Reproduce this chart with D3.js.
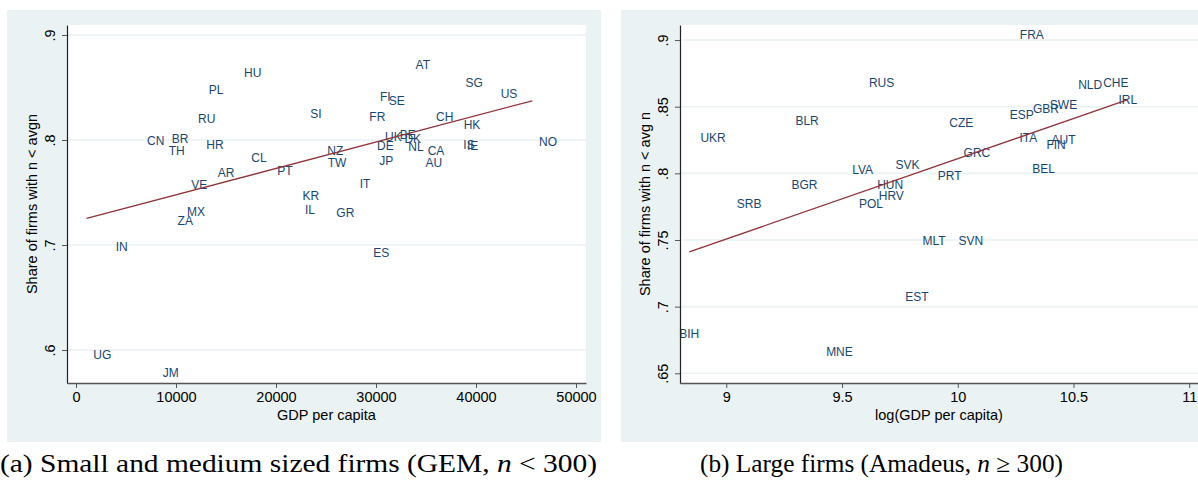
<!DOCTYPE html>
<html>
<head>
<meta charset="utf-8">
<script src="https://cdn.jsdelivr.net/npm/d3@7"></script>
<style>
  body { margin: 0; background: #fff; }
  svg { display: block; }
</style>
</head>
<body>
<svg width="1198" height="485"></svg>
<script>
// panel (a): GEM, small and medium firms
const gemCodes = ["HU","PL","RU","CN","BR","TH","HR","CL","AR","VE","MX","ZA","PT","IN","UG","JM",
    "AT","SG","US","FI","SE","SI","FR","CH","HK","UK","BE","DK","DE","NL","IS","IE","NO",
    "CA","NZ","TW","JP","AU","IT","KR","IL","GR","ES"]
const gemGdp = [16130,12600,11530,6430,8900,8600,12360,16860,13500,10860,10430,9490,19460,3300,1060,8000,
    33290,38290,41800,29730,30600,22760,28660,35330,38100,30230,31700,32170,29430,32560,38060,38430,45630,
    34500,24460,24500,29660,34270,27700,21970,22230,25360,29060]
const gemShare = [0.864,0.848,0.820,0.799,0.801,0.790,0.7955,0.783,0.769,0.757,0.732,0.723,0.771,0.698,0.596,0.578,
    0.872,0.855,0.844,0.841,0.837,0.825,0.822,0.822,0.815,0.803,0.805,0.801,0.795,0.794,0.796,0.795,0.798,
    0.790,0.790,0.778,0.780,0.778,0.758,0.747,0.734,0.731,0.693]
const gemFit = [0.7226, 2.515e-6]   // intercept, slope
const gemXTicks = [0, 10000, 20000, 30000, 40000, 50000]
const gemYTicks = [0.6, 0.7, 0.8, 0.9]

// panel (b): Amadeus, large firms
const amaCodes = ["RUS","BLR","UKR","LVA","BGR","SRB","POL","HUN","HRV","FRA","NLD","CHE","IRL","SWE","GBR",
    "ESP","CZE","ITA","AUT","FIN","GRC","SVK","BEL","PRT","MLT","SVN","EST","BIH","MNE"]
const amaLogGdp = [9.671,9.349,8.943,9.589,9.338,9.099,9.625,9.708,9.713,10.320,10.572,10.683,10.735,10.457,10.381,
    10.277,10.015,10.305,10.457,10.425,10.083,9.783,10.371,9.965,9.898,10.057,9.824,8.840,9.489]
const amaShare = [0.868,0.8395,0.827,0.8025,0.7918,0.7775,0.7775,0.7912,0.7832,0.9037,0.8665,0.8683,0.8555,0.8515,0.8485,
    0.8443,0.838,0.827,0.8255,0.8215,0.8155,0.8068,0.8035,0.7985,0.7494,0.7494,0.7072,0.6797,0.666]
const amaFit = [0.208, 0.0603]
const amaXTicks = [9, 9.5, 10, 10.5, 11]
const amaYTicks = [0.65, 0.7, 0.75, 0.8, 0.85, 0.9]

const svg = d3.select("svg")
const font = "'Liberation Sans', Arial, Helvetica, sans-serif"
const navy = "#1a476f"
const maroon = "#90353b"
const bgColor = "#eaf2f3"

function panel(opts){
    const { bg, plot, xDomain, yDomain, codes, xs, ys, fit, xTicks, yTicks, xFmt, xTitle, yTitle, centered } = opts
    const g = svg.append("g")

    g.append("rect")
        .attr("x", bg[0]).attr("y", bg[1])
        .attr("width", bg[2] - bg[0]).attr("height", bg[3] - bg[1])
        .attr("fill", bgColor)
    g.append("rect")
        .attr("x", plot[0]).attr("y", plot[1])
        .attr("width", plot[2] - plot[0]).attr("height", plot[3] - plot[1])
        .attr("fill", "#fff")

    const xScale = d3.scaleLinear().domain(xDomain).range([plot[0], plot[2]])
    const yScale = d3.scaleLinear().domain(yDomain).range([plot[3], plot[1]])

    // horizontal grid
    g.append("g")
        .selectAll("line")
        .data(yTicks)
        .enter()
        .append("line")
        .attr("x1", plot[0]).attr("x2", plot[2])
        .attr("y1", d => yScale(d)).attr("y2", d => yScale(d))
        .attr("stroke", bgColor)
        .attr("stroke-width", 1.6)

    // country labels
    g.append("g")
        .selectAll("text")
        .data(codes)
        .enter()
        .append("text")
        .attr("x", (d, i) => xScale(xs[i]) + (centered ? 0 : 6.7))
        .attr("y", (d, i) => yScale(ys[i]))
        .attr("dy", "0.36em")
        .attr("text-anchor", centered ? "middle" : "start")
        .style("font-family", font)
        .style("font-size", "12px")
        .attr("fill", navy)
        .text(d => d)

    // fitted line over the x range of the data
    const xExt = d3.extent(xs)
    const line = d3.line().x(d => xScale(d)).y(d => yScale(fit[0] + fit[1] * d))
    g.append("path")
        .attr("d", line(xExt))
        .attr("fill", "none")
        .attr("stroke", maroon)
        .attr("stroke-width", 1.3)

    // axes
    const xAxis = d3.axisBottom(xScale).tickValues(xTicks).tickSize(5).tickSizeOuter(0).tickPadding(4).tickFormat(xFmt)
    const xG = g.append("g")
        .attr("transform", `translate(0, ${plot[3]})`)
        .call(xAxis)
    xG.select("path.domain").attr("stroke", "#555").attr("stroke-width", 1.5)
    xG.selectAll("line").attr("stroke", "#555")
    xG.selectAll("text")
        .style("font-family", font).style("font-size", "14.5px").attr("fill", "#000")

    const yAxis = d3.axisLeft(yScale).tickValues(yTicks).tickSize(5).tickSizeOuter(0)
        .tickFormat(d => d3.format(".2~f")(d).replace(/^0/, ""))
    const yG = g.append("g")
        .attr("transform", `translate(${plot[0]}, 0)`)
        .call(yAxis)
    yG.select("path.domain").attr("stroke", "#222").attr("stroke-width", 1.2)
    yG.selectAll("line").attr("stroke", "#555")
    yG.selectAll("text")
        .attr("transform", "rotate(-90)")
        .attr("x", 0).attr("y", -12).attr("dy", 0)
        .attr("text-anchor", "middle")
        .style("font-family", font).style("font-size", "14.5px").attr("fill", "#000")

    g.append("text")
        .attr("x", (plot[0] + plot[2]) / 2)
        .attr("y", 420)
        .attr("text-anchor", "middle")
        .style("font-family", font).style("font-size", "14.5px")
        .text(xTitle)

    g.append("text")
        .attr("transform", `translate(${plot[0] - 30}, ${(plot[1] + plot[3]) / 2}) rotate(-90)`)
        .attr("text-anchor", "middle")
        .style("font-family", font).style("font-size", "14.5px")
        .text(yTitle)
}

panel({
    bg: [7, 10, 601, 442], plot: [67, 25, 586, 383],
    xDomain: [-900, 51000], yDomain: [0.5686, 0.9095],
    codes: gemCodes, xs: gemGdp, ys: gemShare, fit: gemFit,
    xTicks: gemXTicks, yTicks: gemYTicks, xFmt: d => d3.format("d")(d),
    xTitle: "GDP per capita", yTitle: "Share of firms with n < avgn", centered: false
})

panel({
    bg: [621, 10, 1198, 442], plot: [680, 25, 1198, 383],
    xDomain: [8.80, 11.038], yDomain: [0.6427, 0.9113],
    codes: amaCodes, xs: amaLogGdp, ys: amaShare, fit: amaFit,
    xTicks: amaXTicks, yTicks: amaYTicks, xFmt: d => d3.format("~g")(d),
    xTitle: "log(GDP per capita)", yTitle: "Share of firms with n < avg n", centered: true
})

// sub-captions
const serif = "'Liberation Serif', 'Times New Roman', serif"
const capA = svg.append("text").attr("x", 0).attr("y", 472)
    .style("font-family", serif).style("font-size", "25px")
    .attr("textLength", 597).attr("lengthAdjust", "spacingAndGlyphs")
capA.append("tspan").text("(a) Small and medium sized firms (GEM, ")
capA.append("tspan").style("font-style", "italic").text("n")
capA.append("tspan").text(" < 300)")

const capB = svg.append("text").attr("x", 700).attr("y", 472)
    .style("font-family", serif).style("font-size", "25px")
    .attr("textLength", 363).attr("lengthAdjust", "spacingAndGlyphs")
capB.append("tspan").text("(b) Large firms (Amadeus, ")
capB.append("tspan").style("font-style", "italic").text("n")
capB.append("tspan").text(" ≥ 300)")
</script>
</body>
</html>
